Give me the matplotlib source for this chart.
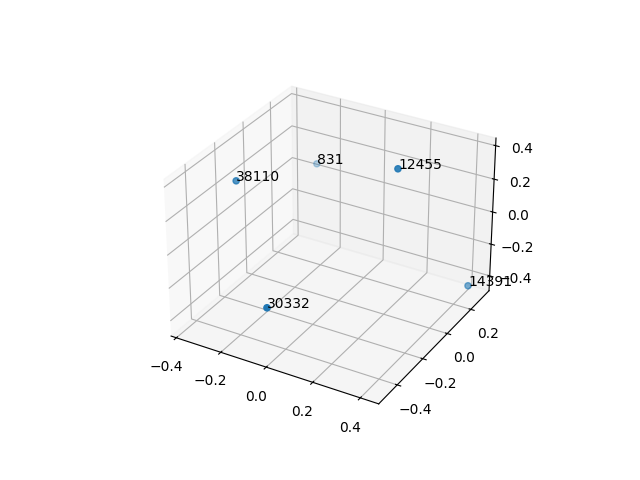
import matplotlib
matplotlib.use("Agg")
import matplotlib.pyplot as plt

# point ids and their coordinates
labels = ["38110", "831", "12455", "14391", "30332"]
x = [-0.353, -0.297, 0.208, 0.449, -0.047]
y = [-0.168, 0.340, 0.081, 0.223, -0.452]
z = [0.222, 0.020, 0.342, -0.374, -0.221]

fig = plt.figure()
ax = fig.add_subplot(projection="3d")
ax.scatter(x, y, z)
for px, py, pz, s in zip(x, y, z, labels):
    ax.text(px, py, pz, s)

ax.set_xlim(-0.424, 0.476)
ax.set_ylim(-0.54, 0.36)
ax.set_zlim(-0.495, 0.445)

fig.savefig("out.png", dpi=100)
